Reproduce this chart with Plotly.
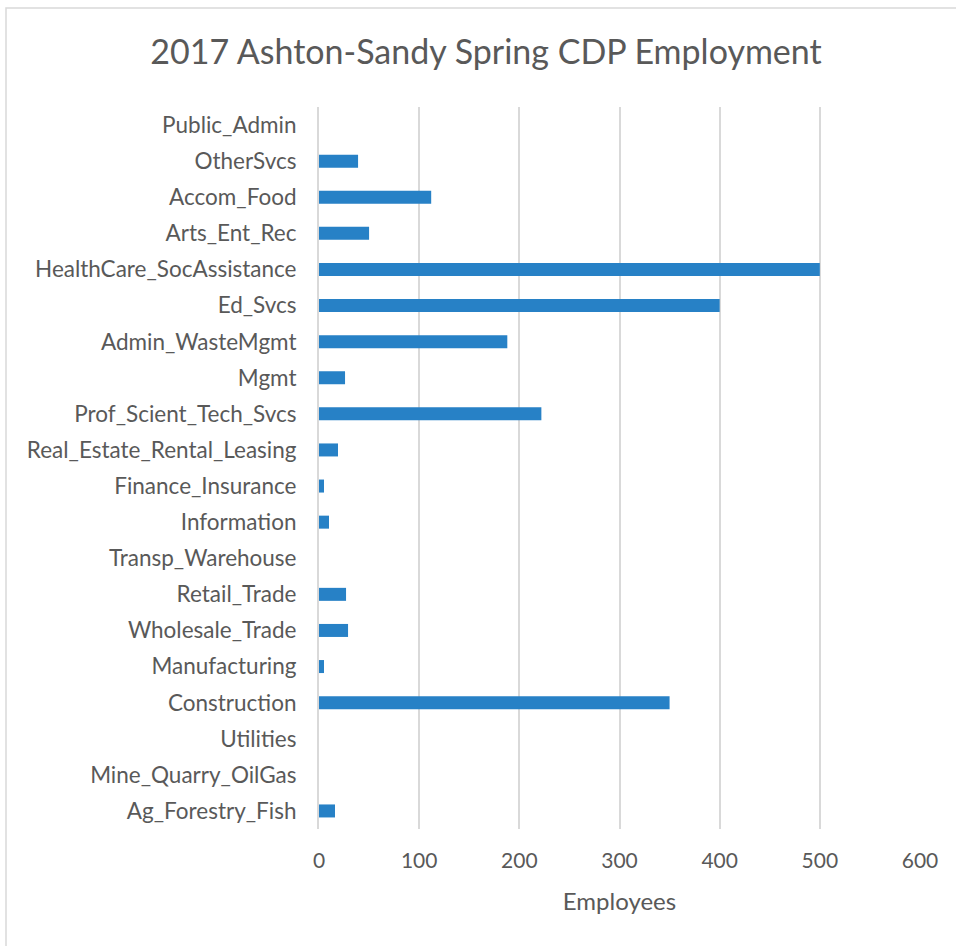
import plotly.graph_objects as go

categories = ["Ag_Forestry_Fish", "Mine_Quarry_OilGas", "Utilities", "Construction",
              "Manufacturing", "Wholesale_Trade", "Retail_Trade", "Transp_Warehouse",
              "Information", "Finance_Insurance", "Real_Estate_Rental_Leasing",
              "Prof_Scient_Tech_Svcs", "Mgmt", "Admin_WasteMgmt", "Ed_Svcs",
              "HealthCare_SocAssistance", "Arts_Ent_Rec", "Accom_Food", "OtherSvcs",
              "Public_Admin"]
employees = [16, 0, 0, 350, 5, 29, 27, 0, 10, 5, 19, 222, 26, 188, 400, 500, 50, 112, 39, 0]
x_ticks = [0, 100, 200, 300, 400, 500, 600]

W, H = 956, 946
L, R, T, B = 319, 36, 107, 117
pw, ph = W - L - R, H - T - B

def px_x(p):
    return (p - L) / pw

def px_y(p):
    return (H - B - p) / ph

FONT = "Lato, Open Sans, sans-serif"
GRAY = "#595959"

fig = go.Figure(go.Bar(
    y=categories, x=employees, orientation="h",
    marker=dict(color="#2781c6", line=dict(width=0)),
    width=0.36,
))

fig.update_layout(
    width=W, height=H,
    margin=dict(l=L, r=R, t=T, b=B),
    paper_bgcolor="white", plot_bgcolor="white",
    font=dict(family=FONT, color=GRAY, size=22),
    title=dict(text="2017 Ashton-Sandy Spring CDP Employment",
               x=486 / W, xref="container", xanchor="center",
               y=1 - 52 / H, yanchor="middle",
               font=dict(size=34, color=GRAY, family=FONT)),
    xaxis=dict(range=[0, 600], tickvals=x_ticks, showgrid=True,
               gridcolor="#d9d9d9", gridwidth=1.5, zeroline=False,
               showline=False, ticks="", ticklabelstandoff=17,
               tickfont=dict(size=21, color=GRAY),
               title=dict(text="Employees", font=dict(size=24, color=GRAY), standoff=22)),
    yaxis=dict(categoryorder="array", categoryarray=categories,
               range=[-0.5, len(categories) - 0.5], showgrid=False,
               showline=True, linecolor="#d9d9d9", linewidth=2,
               ticks="", ticklabelstandoff=16,
               tickfont=dict(size=22.5, color=GRAY)),
    showlegend=False,
    shapes=[dict(type="rect", xref="paper", yref="paper",
                 x0=px_x(6), x1=px_x(990), y0=px_y(990), y1=px_y(8),
                 line=dict(color="#d9d9d9", width=1.5), fillcolor="rgba(0,0,0,0)",
                 layer="below")],
)

fig.write_html("out.html", config={"displayModeBar": False},
               post_script="document.body.style.margin='0';")
